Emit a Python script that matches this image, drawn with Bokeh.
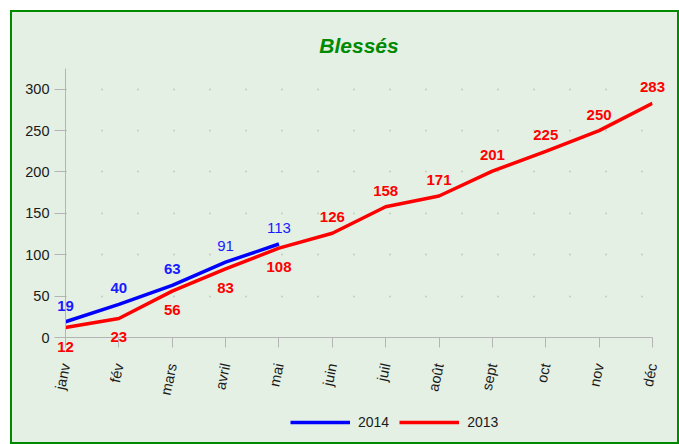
from bokeh.plotting import figure
from bokeh.layouts import column
from bokeh.models import ColumnDataSource, FixedTicker, Legend, LegendItem
from bokeh.core.properties import value
from bokeh.embed import file_html
from bokeh.resources import INLINE

months = ["janv", "fév", "mars", "avril", "mai", "juin", "juil", "août", "sept", "oct", "nov", "déc"]
values_2013 = [12, 23, 56, 83, 108, 126, 158, 171, 201, 225, 250, 283]
values_2014 = [19, 40, 63, 91, 113]
y_ticks = [0, 50, 100, 150, 200, 250, 300]

FONT = "Liberation Sans"
BG = "#e4f0e4"

x13 = list(range(len(values_2013)))
x14 = list(range(len(values_2014)))

src13 = ColumnDataSource(dict(
    x=x13, y=values_2013, t=[str(v) for v in values_2013],
    off=[19 if i < 5 else -16 for i in x13],
))
src14 = ColumnDataSource(dict(
    x=x14, y=values_2014, t=[str(v) for v in values_2014],
    st=["bold" if i < 3 else "normal" for i in x14],
))

W = 665
HM, HL = 392, 38

p = figure(width=W, height=HM, x_range=(0, 11), y_range=(0, 325),
           output_backend="svg", toolbar_location=None,
           min_border_left=53, min_border_right=25, min_border_top=56, min_border_bottom=67,
           background_fill_color=BG, border_fill_color=BG)
p.outline_line_color = None

p.title.text = "Blessés"
p.title.align = "center"
p.title.text_font = FONT
p.title.text_font_size = "21px"
p.title.text_font_style = "bold italic"
p.title.text_color = "#008a00"
p.title.standoff = 23

# grid
p.xgrid.visible = False
p.ygrid.ticker = FixedTicker(ticks=y_ticks)
p.ygrid.grid_line_color = "#a8a8a8"
p.ygrid.grid_line_dash = "1 35"
p.ygrid.grid_line_width = 1.5

# axes
p.xaxis.ticker = FixedTicker(ticks=x13)
p.xaxis.major_label_overrides = {i: m for i, m in enumerate(months)}
p.xaxis.major_label_orientation = 1.36
p.yaxis.ticker = FixedTicker(ticks=y_ticks)
for ax in (p.xaxis[0], p.yaxis[0]):
    ax.axis_line_color = "#b4b4b4"
    ax.major_tick_line_color = "#b4b4b4"
    ax.minor_tick_line_color = None
    ax.major_tick_in = 0
    ax.major_label_text_font = FONT
    ax.major_label_text_font_size = "14.5px"
    ax.major_label_text_color = "#1a1a1a"
p.xaxis.major_tick_out = 10
p.yaxis.major_tick_out = 11
p.xaxis.major_label_standoff = 16
p.yaxis.major_label_standoff = 5

p.line("x", "y", source=src13, line_color="#ff0000", line_width=3.5)
p.line("x", "y", source=src14, line_color="#0000ff", line_width=3.5)

p.text("x", "y", text="t", source=src13, y_offset="off", level="annotation",
       text_color="#ff0000", text_font=value(FONT), text_font_size="15px",
       text_font_style="bold", text_align="center", text_baseline="middle")
p.text("x", "y", text="t", source=src14, y_offset=-16, level="annotation",
       text_color="#1a1aff", text_font=value(FONT), text_font_size="15px",
       text_font_style="st", text_align="center", text_baseline="middle")

# legend strip below the chart (series drawn out of view; only the key shows)
lf = figure(width=W, height=HL, x_range=(0, 1), y_range=(-1000, -999),
            output_backend="svg", toolbar_location=None,
            min_border=0, background_fill_color=BG, border_fill_color=BG)
lf.outline_line_color = None
lf.axis.visible = False
lf.grid.visible = False
l14 = lf.line("x", "y", source=src14, line_color="#0000ff", line_width=3.5)
l13 = lf.line("x", "y", source=src13, line_color="#ff0000", line_width=3.5)
legend = Legend(items=[LegendItem(label="2014", renderers=[l14]),
                       LegendItem(label="2013", renderers=[l13])],
                orientation="horizontal", location=(225, 12))
legend.glyph_width = 60
legend.glyph_height = 16
legend.label_standoff = 8
legend.spacing = 10
legend.margin = 0
legend.padding = 0
legend.label_text_font = FONT
legend.label_text_font_size = "14px"
legend.label_text_color = "#1a1a1a"
legend.background_fill_alpha = 0
legend.border_line_color = None
lf.add_layout(legend, "center")

layout = column(p, lf, spacing=0,
                styles={"border": "2px solid #008a00", "margin": "10px 0 0 10px",
                        "background-color": BG})

open("out.html", "w").write(file_html(layout, INLINE))
